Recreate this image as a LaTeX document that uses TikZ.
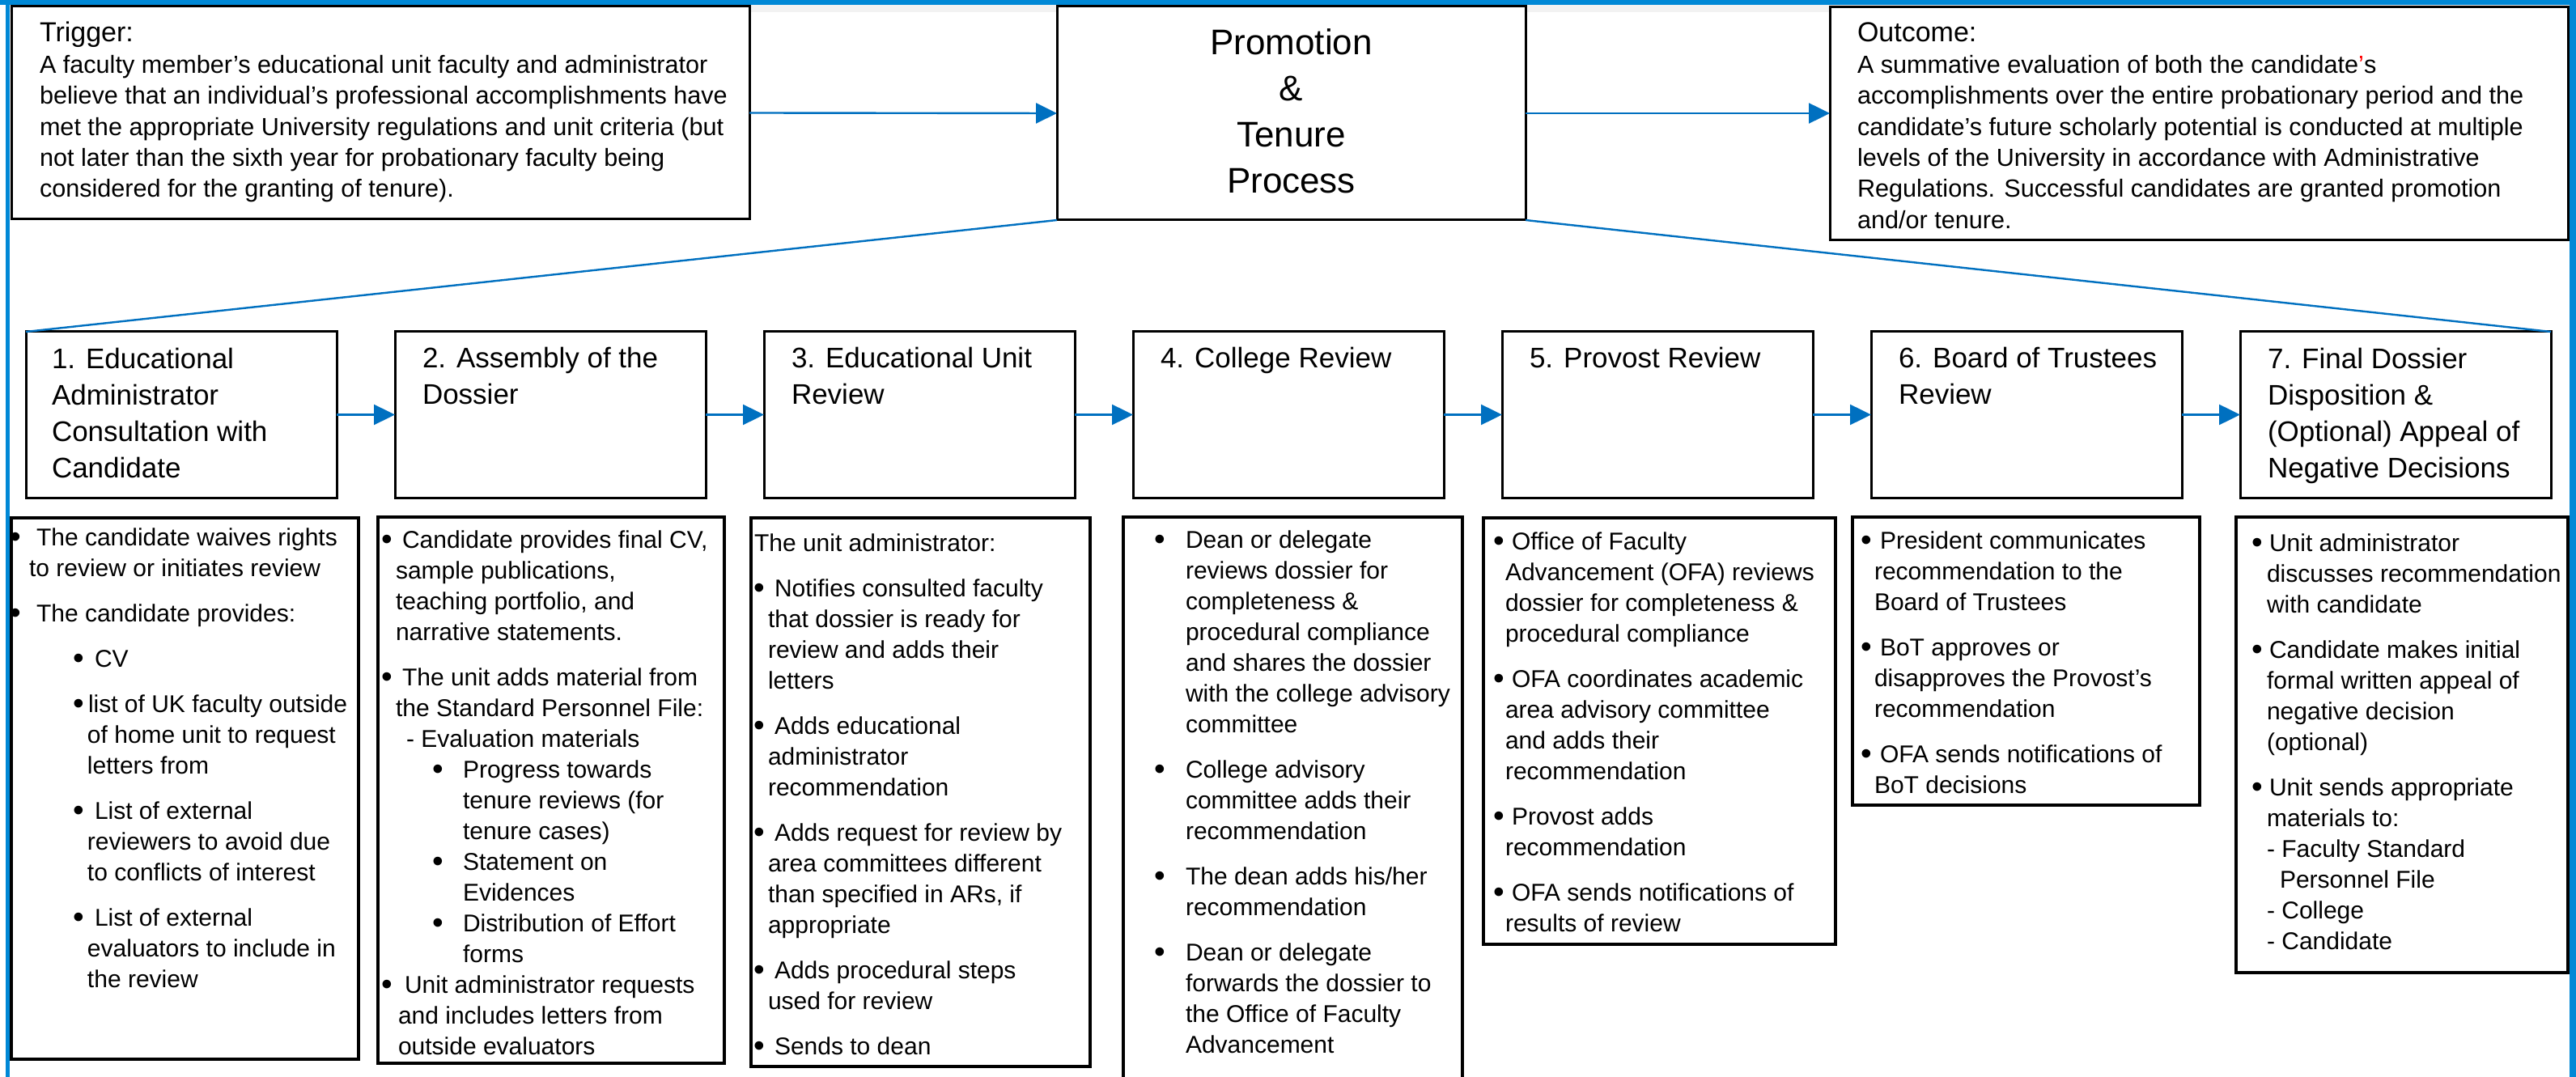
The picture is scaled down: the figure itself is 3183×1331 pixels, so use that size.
\documentclass[tikz,border=0pt]{standalone}
\usepackage{fontspec}
\setmainfont{Liberation Sans}
\usetikzlibrary{arrows.meta}
\definecolor{framebl}{RGB}{0,136,214}
\definecolor{connbl}{RGB}{0,112,192}
\definecolor{bandgr}{RGB}{242,242,242}
\newdimen\pxu \pxu=0.5pt
\newcommand\bigbul{\raisebox{-0.09em}{\scalebox{1.3}{\textbullet}}}
\newcommand\Bu[2]{\hspace*{#1\pxu}\makebox[\dimexpr#2\pxu-#1\pxu\relax][l]{\bigbul}}
\newcommand\Ci[1]{\hspace*{#1\pxu}}
\newcommand\St[1]{\rule{0pt}{#1pt}}
\tikzset{
  boxnode/.style={draw=black, line width=1.5pt, fill=white, anchor=north west, inner sep=0pt, outer sep=0pt},
  detbox/.style={boxnode, line width=1.6pt},
  txt/.style={anchor=north west, inner sep=0pt, outer sep=0pt, align=left, font=\fontsize{15}{19}\selectfont},
  toptxt/.style={txt, font=\fontsize{15.3}{19.2}\selectfont},
  headtxt/.style={txt, font=\fontsize{17.5}{22.5}\selectfont},
  conn/.style={draw=connbl, line width=1.2pt},
  arr/.style={conn, -{Triangle[length=13pt,width=12.5pt]}},
}
\begin{document}
\begin{tikzpicture}[x=0.5pt, y=-0.5pt]
\useasboundingbox (0,0) rectangle (3183,1331);
% frame
\fill[white] (0,0) rectangle (3183,1331);
\fill[bandgr] (12,6) rectangle (3175,15);
\fill[framebl] (0,0) rectangle (3183,6);
\fill[framebl] (7,0) rectangle (12,1331);
\fill[framebl] (3175,0) rectangle (3183,1331);

% top row
\node[boxnode, minimum width=456pt, minimum height=131.5pt] (trig) at (14,8) {};
\node[boxnode, minimum width=289.5pt, minimum height=132pt] (pt) at (1306,8) {};
\node[boxnode, minimum width=456pt, minimum height=144pt] (out) at (2261,9) {};

\node[toptxt] (trigt) at (49,24) {\St{14}{\fontsize{17}{19.2}\selectfont Trigger:}\\
A faculty member’s educational unit faculty and administrator\\
believe that an individual’s professional accomplishments have\\
met the appropriate University regulations and unit criteria (but\\
not later than the sixth year for probationary faculty being\\
considered for the granting of tenure).};

\node[toptxt] (outt) at (2295,24) {\St{14}{\fontsize{17}{19.2}\selectfont Outcome:}\\
A summative evaluation of both the candidate{\color{red}'}s\\
accomplishments over the entire probationary period and the\\
candidate's future scholarly potential is conducted at multiple\\
levels of the University in accordance with Administrative\\
Regulations. Successful candidates are granted promotion\\
and/or tenure.};

\node[anchor=north, inner sep=0pt, outer sep=0pt, align=center, font=\fontsize{22}{28.5}\selectfont] (ptt) at (1595.5,32)
  {\St{18}Promotion\\ \&\\ Tenure\\ Process};

\draw[arr] (trig.east) -- (pt.west);
\draw[arr] (pt.east) -- (pt.east -| out.west);

% step boxes
\foreach \i in {1,...,7}
  \node[boxnode, minimum width=192pt, minimum height=102.5pt] (s\i) at ({32+456*(\i-1)},410) {};
\foreach \i/\j in {1/2,2/3,3/4,4/5,5/6,6/7}
  \draw[arr] (s\i.east) -- (s\j.west);
\draw[conn] (pt.south west) -- (s1.north west);
\draw[conn] (pt.south east) -- (s7.north east);

\node[headtxt] (h1) at (64,425) {\St{15}1. Educational\\ Administrator\\ Consultation with\\ Candidate};
\node[headtxt] (h2) at (522,425) {\St{15}2. Assembly of the\\ Dossier};
\node[headtxt] (h3) at (978,425) {\St{15}3. Educational Unit\\ Review};
\node[headtxt] (h4) at (1434,425) {\St{15}4. College Review};
\node[headtxt] (h5) at (1890,425) {\St{15}5. Provost Review};
\node[headtxt] (h6) at (2346,425) {\St{15}6. Board of Trustees\\ Review};
\node[headtxt] (h7) at (2802,425) {\St{15}7. Final Dossier\\ Disposition \&\\ (Optional) Appeal of\\ Negative Decisions};

% detail boxes
\node[detbox, minimum width=214.5pt, minimum height=334.5pt] (d1) at (14,640) {};
\node[detbox, minimum width=214pt, minimum height=337.5pt] (d2) at (467,639) {};
\node[detbox, minimum width=209.5pt, minimum height=339pt] (d3) at (928,640) {};
\node[detbox, minimum width=209.5pt, minimum height=350.5pt] (d4) at (1388,639) {};
\node[detbox, minimum width=217.5pt, minimum height=263.5pt] (d5) at (1833,640) {};
\node[detbox, minimum width=214.5pt, minimum height=178pt] (d6) at (2289,639) {};
\node[detbox, minimum width=205pt, minimum height=281.5pt] (d7) at (2763,639) {};

\node[txt] (t1) at (14,646) {\St{14}\Bu{-1}{31}The candidate waives rights\\
\Ci{22}to review or initiates review\\[9pt]
\Bu{-1}{31}The candidate provides:\\[9pt]
\Bu{76}{103}CV\\[9pt]
\Bu{76}{95}list of UK faculty outside\\
\Ci{94}of home unit to request\\
\Ci{94}letters from\\[9pt]
\Bu{76}{103}List of external\\
\Ci{94}reviewers to avoid due\\
\Ci{94}to conflicts of interest\\[9pt]
\Bu{76}{103}List of external\\
\Ci{94}evaluators to include in\\
\Ci{94}the review};

\node[txt] (t2) at (467,649) {\St{14}\Bu{4}{30}Candidate provides final CV,\\
\Ci{22}sample publications,\\
\Ci{22}teaching portfolio, and\\
\Ci{22}narrative statements.\\[9pt]
\Bu{4}{30}The unit adds material from\\
\Ci{22}the Standard Personnel File:\\
\Ci{35}- Evaluation materials\\
\Bu{67}{105}Progress towards\\
\Ci{105}tenure reviews (for\\
\Ci{105}tenure cases)\\
\Bu{67}{105}Statement on\\
\Ci{105}Evidences\\
\Bu{67}{105}Distribution of Effort\\
\Ci{105}forms\\
\Bu{4}{33}Unit administrator requests\\
\Ci{25}and includes letters from\\
\Ci{25}outside evaluators};

\node[txt] (t3) at (928,653) {\St{14}\Ci{4}The unit administrator:\\[9pt]
\Bu{3}{29}Notifies consulted faculty\\
\Ci{21}that dossier is ready for\\
\Ci{21}review and adds their\\
\Ci{21}letters\\[9pt]
\Bu{3}{29}Adds educational\\
\Ci{21}administrator\\
\Ci{21}recommendation\\[9pt]
\Bu{3}{29}Adds request for review by\\
\Ci{21}area committees different\\
\Ci{21}than specified in ARs, if\\
\Ci{21}appropriate\\[9pt]
\Bu{3}{29}Adds procedural steps\\
\Ci{21}used for review\\[9pt]
\Bu{3}{29}Sends to dean};

\node[txt] (t4) at (1388,649) {\St{14}\Bu{38}{77}Dean or delegate\\
\Ci{77}reviews dossier for\\
\Ci{77}completeness \&\\
\Ci{77}procedural compliance\\
\Ci{77}and shares the dossier\\
\Ci{77}with the college advisory\\
\Ci{77}committee\\[9pt]
\Bu{38}{77}College advisory\\
\Ci{77}committee adds their\\
\Ci{77}recommendation\\[9pt]
\Bu{38}{77}The dean adds his/her\\
\Ci{77}recommendation\\[9pt]
\Bu{38}{77}Dean or delegate\\
\Ci{77}forwards the dossier to\\
\Ci{77}the Office of Faculty\\
\Ci{77}Advancement};

\node[txt] (t5) at (1833,651) {\St{14}\Bu{12}{35}Office of Faculty\\
\Ci{27}Advancement (OFA) reviews\\
\Ci{27}dossier for completeness \&\\
\Ci{27}procedural compliance\\[9pt]
\Bu{12}{35}OFA coordinates academic\\
\Ci{27}area advisory committee\\
\Ci{27}and adds their\\
\Ci{27}recommendation\\[9pt]
\Bu{12}{35}Provost adds\\
\Ci{27}recommendation\\[9pt]
\Bu{12}{35}OFA sends notifications of\\
\Ci{27}results of review};

\node[txt] (t6) at (2289,650) {\St{14}\Bu{10}{34}President communicates\\
\Ci{27}recommendation to the\\
\Ci{27}Board of Trustees\\[9pt]
\Bu{10}{34}BoT approves or\\
\Ci{27}disapproves the Provost’s\\
\Ci{27}recommendation\\[9pt]
\Bu{10}{34}OFA sends notifications of\\
\Ci{27}BoT decisions};

\node[txt] (t7) at (2763,653) {\St{14}\Bu{19}{41}Unit administrator\\
\Ci{38}discusses recommendation\\
\Ci{38}with candidate\\[9pt]
\Bu{19}{41}Candidate makes initial\\
\Ci{38}formal written appeal of\\
\Ci{38}negative decision\\
\Ci{38}(optional)\\[9pt]
\Bu{19}{41}Unit sends appropriate\\
\Ci{38}materials to:\\
\Ci{38}- Faculty Standard\\
\Ci{54}Personnel File\\
\Ci{38}- College\\
\Ci{38}- Candidate};
\end{tikzpicture}
\end{document}
